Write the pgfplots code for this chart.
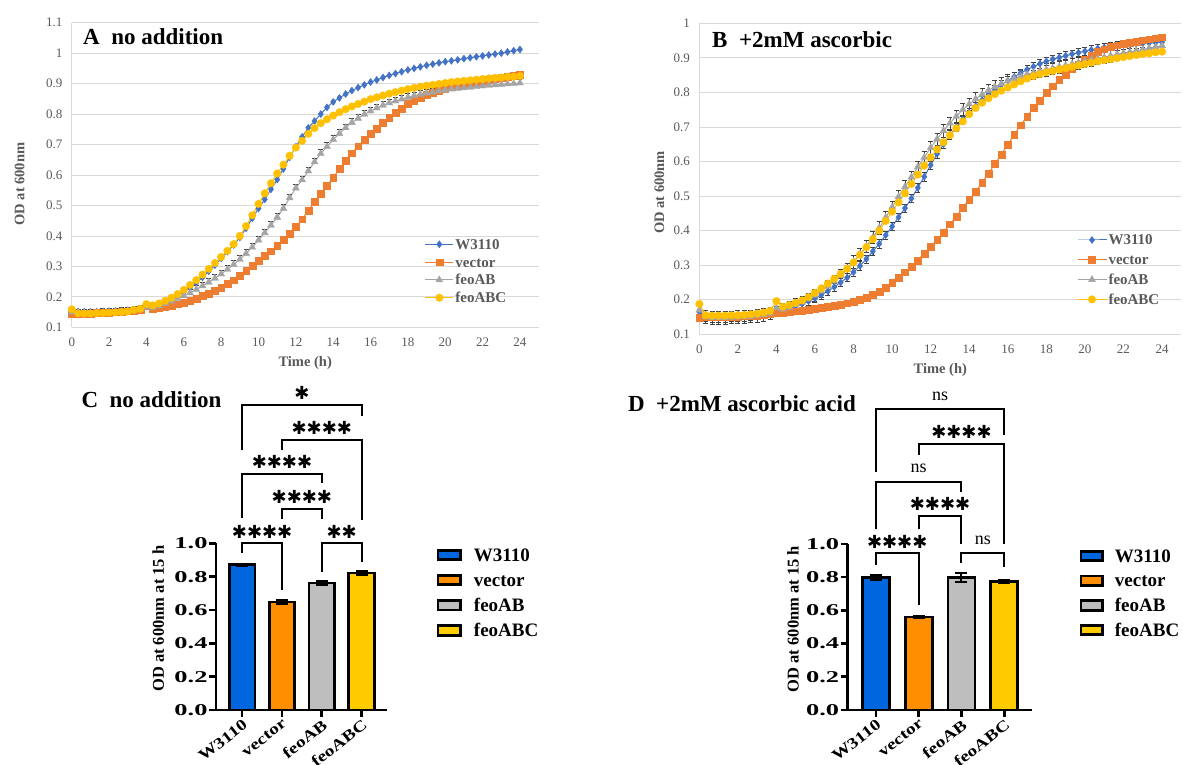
\documentclass[border=0pt]{standalone}
\usepackage{fontspec}
\setmainfont{Liberation Serif}
\newfontfamily\djv{DejaVu Sans}
\newfontfamily\wideA[FakeStretch=1.6]{Liberation Serif}
\newfontfamily\wideB[FakeStretch=1.25]{Liberation Serif}
\usepackage{pgfplots}
\usepackage{pgfplotstable}
\pgfplotsset{compat=1.18}

\definecolor{cW}{HTML}{4472C4}
\definecolor{cV}{HTML}{ED7D31}
\definecolor{cAB}{HTML}{A5A5A5}
\definecolor{cABC}{HTML}{FFC000}
\definecolor{gridc}{HTML}{D9D9D9}
\definecolor{labc}{HTML}{595959}
\definecolor{bW}{HTML}{0066DD}
\definecolor{bV}{HTML}{FF8F00}
\definecolor{bAB}{HTML}{BEBEBE}
\definecolor{bABC}{HTML}{FFCC00}

\newcommand\fs[1]{\fontsize{#1}{#1}\selectfont}
\newcommand\st{\symbol{"2731}}

% growth curves, one reading every 20 min
\pgfplotstableread{
t W V AB ABC
0 0.155 0.143 0.150 0.159
0.333 0.152 0.144 0.147 0.146
0.667 0.151 0.145 0.146 0.145
1 0.151 0.146 0.146 0.145
1.333 0.151 0.147 0.147 0.146
1.667 0.152 0.148 0.148 0.147
2 0.153 0.149 0.149 0.148
2.333 0.154 0.150 0.150 0.149
2.667 0.155 0.151 0.151 0.150
3 0.156 0.153 0.153 0.152
3.333 0.158 0.155 0.155 0.157
3.667 0.161 0.158 0.158 0.161
4 0.168 0.170 0.166 0.176
4.333 0.168 0.162 0.165 0.172
4.667 0.173 0.164 0.170 0.178
5 0.182 0.167 0.178 0.187
5.333 0.192 0.171 0.186 0.197
5.667 0.203 0.176 0.194 0.209
6 0.216 0.182 0.203 0.223
6.333 0.230 0.188 0.213 0.239
6.667 0.246 0.195 0.224 0.255
7 0.264 0.203 0.236 0.273
7.333 0.284 0.211 0.248 0.292
7.667 0.304 0.220 0.261 0.311
8 0.326 0.230 0.275 0.331
8.333 0.348 0.242 0.290 0.351
8.667 0.370 0.255 0.306 0.373
9 0.395 0.270 0.323 0.400
9.333 0.425 0.285 0.342 0.432
9.667 0.458 0.302 0.363 0.468
10 0.490 0.320 0.386 0.505
10.333 0.520 0.334 0.410 0.540
10.667 0.553 0.350 0.435 0.573
11 0.585 0.368 0.461 0.605
11.333 0.620 0.388 0.490 0.634
11.667 0.658 0.408 0.525 0.663
12 0.693 0.430 0.557 0.690
12.333 0.725 0.455 0.584 0.712
12.667 0.755 0.483 0.613 0.735
13 0.777 0.512 0.643 0.754
13.333 0.800 0.540 0.670 0.770
13.667 0.822 0.565 0.693 0.783
14 0.840 0.592 0.716 0.795
14.333 0.853 0.620 0.736 0.806
14.667 0.866 0.648 0.755 0.816
15 0.877 0.672 0.772 0.825
15.333 0.887 0.695 0.786 0.833
15.667 0.896 0.716 0.799 0.841
16 0.905 0.735 0.810 0.849
16.333 0.912 0.753 0.820 0.855
16.667 0.920 0.771 0.829 0.861
17 0.927 0.788 0.837 0.867
17.333 0.933 0.804 0.843 0.872
17.667 0.939 0.819 0.849 0.877
18 0.945 0.833 0.855 0.882
18.333 0.950 0.845 0.860 0.886
18.667 0.955 0.855 0.865 0.890
19 0.960 0.864 0.869 0.893
19.333 0.964 0.871 0.872 0.896
19.667 0.968 0.878 0.876 0.899
20 0.972 0.884 0.879 0.902
20.333 0.975 0.889 0.882 0.905
20.667 0.978 0.894 0.884 0.907
21 0.982 0.898 0.886 0.909
21.333 0.985 0.902 0.888 0.911
21.667 0.988 0.906 0.890 0.913
22 0.991 0.910 0.892 0.915
22.333 0.994 0.913 0.894 0.917
22.667 0.997 0.917 0.896 0.919
23 1.000 0.920 0.897 0.920
23.333 1.004 0.923 0.899 0.922
23.667 1.008 0.927 0.900 0.923
24 1.012 0.930 0.902 0.925
}\tabA

\pgfplotstableread{
t W V AB ABC
0 0.165 0.148 0.170 0.188
0.333 0.150 0.150 0.150 0.155
0.667 0.148 0.150 0.148 0.154
1 0.148 0.150 0.148 0.154
1.333 0.148 0.151 0.148 0.154
1.667 0.149 0.151 0.149 0.155
2 0.150 0.152 0.150 0.155
2.333 0.151 0.153 0.151 0.156
2.667 0.152 0.154 0.152 0.158
3 0.154 0.155 0.154 0.160
3.333 0.157 0.157 0.157 0.163
3.667 0.160 0.159 0.161 0.168
4 0.168 0.162 0.176 0.196
4.333 0.170 0.163 0.172 0.180
4.667 0.175 0.165 0.178 0.185
5 0.181 0.167 0.185 0.191
5.333 0.188 0.169 0.193 0.198
5.667 0.196 0.172 0.202 0.208
6 0.204 0.175 0.213 0.220
6.333 0.214 0.177 0.225 0.233
6.667 0.225 0.180 0.239 0.247
7 0.237 0.183 0.254 0.261
7.333 0.250 0.186 0.269 0.275
7.667 0.264 0.190 0.287 0.290
8 0.280 0.195 0.310 0.308
8.333 0.298 0.200 0.332 0.330
8.667 0.318 0.206 0.355 0.352
9 0.340 0.214 0.380 0.375
9.333 0.362 0.224 0.408 0.400
9.667 0.387 0.236 0.438 0.428
10 0.412 0.250 0.468 0.455
10.333 0.439 0.264 0.498 0.482
10.667 0.465 0.280 0.527 0.508
11 0.493 0.296 0.555 0.535
11.333 0.524 0.314 0.584 0.562
11.667 0.556 0.334 0.612 0.588
12 0.590 0.354 0.640 0.612
12.333 0.622 0.373 0.665 0.635
12.667 0.650 0.395 0.689 0.656
13 0.677 0.419 0.711 0.676
13.333 0.700 0.441 0.731 0.696
13.667 0.722 0.467 0.750 0.716
14 0.742 0.490 0.766 0.737
14.333 0.760 0.513 0.781 0.755
14.667 0.778 0.539 0.794 0.770
15 0.795 0.566 0.806 0.783
15.333 0.809 0.593 0.816 0.795
15.667 0.822 0.621 0.825 0.805
16 0.834 0.649 0.833 0.814
16.333 0.845 0.677 0.840 0.823
16.667 0.856 0.705 0.846 0.832
17 0.866 0.730 0.852 0.840
17.333 0.875 0.755 0.857 0.847
17.667 0.883 0.777 0.862 0.853
18 0.890 0.799 0.866 0.858
18.333 0.896 0.818 0.870 0.862
18.667 0.901 0.836 0.874 0.866
19 0.906 0.852 0.878 0.870
19.333 0.911 0.868 0.882 0.874
19.667 0.915 0.882 0.886 0.878
20 0.919 0.894 0.890 0.882
20.333 0.923 0.906 0.894 0.886
20.667 0.927 0.917 0.898 0.890
21 0.930 0.925 0.902 0.893
21.333 0.933 0.932 0.906 0.896
21.667 0.935 0.937 0.910 0.899
22 0.937 0.941 0.914 0.902
22.333 0.939 0.945 0.917 0.905
22.667 0.941 0.948 0.921 0.908
23 0.942 0.951 0.924 0.911
23.333 0.943 0.954 0.928 0.913
23.667 0.944 0.957 0.931 0.916
24 0.945 0.960 0.935 0.918
}\tabB

\pgfplotsset{
  growth/.style={
    scale only axis, anchor=south west,
    xmin=0, xmax=25, xtick={0,2,...,24},
    axis x line*=bottom, axis y line*=left,
    axis line style={draw=gridc, line width=0.8pt, -},
    ymajorgrids, grid style={draw=gridc, line width=0.8pt},
    major tick length=0pt,
    tick label style={font=\fs{13}, text=labc},
    /pgf/number format/assume math mode=true,
    yticklabel style={xshift=-6pt},
    xticklabel style={yshift=-7.5pt},
    label style={font=\fs{14.5}\bfseries, text=labc},
    legend cell align=left,
    legend style={anchor=north west, draw=none, fill=none, inner sep=0pt, outer sep=0pt,
      column sep=0pt, font=\fs{15}\bfseries, text=labc,
      nodes={inner sep=0pt, text height=10pt, text depth=0pt}},
    every axis plot/.append style={line width=1pt},
  },
  sW/.style={color=cW, mark=diamond*, mark size=3.6pt, mark options={solid, line width=0.3pt}},
  sV/.style={color=cV, mark=square*, mark size=3.4pt, mark options={solid, line width=0.3pt}},
  sAB/.style={color=cAB, mark=triangle*, mark size=4.1pt, mark options={solid, line width=0.3pt}},
  sABC/.style={color=cABC, mark=*, mark size=3.8pt, mark options={solid, line width=0.3pt}},
  ebar/.style 2 args={error bars/.cd, y dir=#1, y fixed=#2,
    error bar style={line width=0.6pt, black!75},
    error mark options={rotate=90, mark size=2.5pt, line width=0.6pt, black!75}},
  bars/.style={
    scale only axis, anchor=south west, ymin=0, ymax=1, clip=false,
    xmin=-0.658, xmax=3.646,
    axis x line=bottom, axis y line=left,
    axis line style={-, line width=2.6pt},
    tick align=outside, major tick length=7pt, tick style={line width=2.6pt, black},
    xtick={0,1,2,3}, xticklabels={W3110,vector,feoAB,feoABC},
    ytick={0,0.2,0.4,0.6,0.8,1},
    yticklabel style={font=\wideA\fs{16.5}\bfseries, xshift=2pt, /pgf/number format/.cd, fixed, fixed zerofill, precision=1, assume math mode=true},
    xticklabel style={font=\wideB\fs{15.5}\bfseries, rotate=38, anchor=north east, inner sep=1pt},
    ylabel={OD at 600nm at 15 h}, ylabel style={font=\fs{16.5}\bfseries, anchor=center},
    ybar,
    legend cell align=left,
    legend style={anchor=north west, draw=none, fill=none, inner sep=0pt, outer sep=0pt,
      column sep=0pt, font=\fs{19}\bfseries,
      nodes={inner sep=0pt, text height=12.6pt, text depth=0pt}},
  },
  bar/.style={fill=#1, draw=black, line width=2.8pt, bar shift=0pt,
    error bars/.cd, y dir=both, y explicit,
    error bar style={line width=2pt, black},
    error mark options={rotate=90, mark size=6pt, line width=2pt, black}},
  barlegC/.style={legend image code/.code={\draw[##1, line width=2.8pt] (1.4pt,-4.75pt) rectangle (23.6pt,4.75pt); \path[draw=none] (0pt,0pt) (37.3pt,0pt);}},
  barlegD/.style={legend image code/.code={\draw[##1, line width=2.8pt] (1.4pt,-4.75pt) rectangle (22.6pt,4.75pt); \path[draw=none] (0pt,0pt) (35.3pt,0pt);}},
}

\begin{document}
\begin{tikzpicture}
\path[use as bounding box] (0pt,0pt) rectangle (1183pt,765pt);

% A: growth, no addition
\begin{axis}[growth, at={(71.8pt,437.7pt)}, width=466.8pt, height=304.6pt,
  ymin=0.1, ymax=1.1, ytick={0.1,0.2,0.3,0.4,0.5,0.6,0.7,0.8,0.9,1,1.1},
  xlabel={Time (h)}, ylabel={OD at 600nm},
  xlabel style={at={(axis description cs:0.5,-0.117)}, anchor=center},
  ylabel style={at={(axis description cs:-0.112,0.47)}, anchor=center},
  legend style={at={(0.7566,0.2889)}, row sep=7.8pt},
  legend image code/.code={\draw[mark repeat=2,mark phase=2,#1] plot coordinates {(0pt,0pt) (13.85pt,0pt) (27.7pt,0pt)}; \path[draw=none] (0pt,0pt) (30pt,0pt);}]
\addplot[sW] table[x=t,y=W]{\tabA}; \addlegendentry{W3110}
\addplot[sV] table[x=t,y=V]{\tabA}; \addlegendentry{vector}
\addplot[sAB, ebar={plus}{0.013}] table[x=t,y=AB]{\tabA}; \addlegendentry{feoAB}
\addplot[sABC] table[x=t,y=ABC]{\tabA}; \addlegendentry{feoABC}
\end{axis}

% B: growth, +2mM ascorbic
\begin{axis}[growth, at={(699.3pt,430.7pt)}, width=482pt, height=311pt,
  ymin=0.1, ymax=1, ytick={0.1,0.2,0.3,0.4,0.5,0.6,0.7,0.8,0.9,1},
  xlabel={Time (h)}, ylabel={OD at 600nm},
  xlabel style={at={(axis description cs:0.5,-0.115)}, anchor=center},
  ylabel style={at={(axis description cs:-0.0826,0.456)}, anchor=center},
  legend style={at={(0.7836,0.3193)}, row sep=9.8pt},
  legend image code/.code={\draw[mark repeat=2,mark phase=2,#1] plot coordinates {(0pt,0pt) (14.5pt,0pt) (29pt,0pt)}; \path[draw=none] (0pt,0pt) (31pt,0pt);}]
\addplot[sW, ebar={both}{0.012}] table[x=t,y=W]{\tabB}; \addlegendentry{W3110}
\addplot[sV] table[x=t,y=V]{\tabB}; \addlegendentry{vector}
\addplot[sAB, ebar={both}{0.018}] table[x=t,y=AB]{\tabB}; \addlegendentry{feoAB}
\addplot[sABC] table[x=t,y=ABC]{\tabB}; \addlegendentry{feoABC}
\end{axis}

% C: OD at 15 h, no addition
\begin{axis}[bars, at={(216pt,55pt)}, width=171.3pt, height=166.7pt, bar width=25.7pt,
  ylabel style={at={(axis description cs:-0.337,0.548)}},
  legend style={at={(1.288,0.968)}, row sep=12.6pt}]
\addplot[barlegC, bar=bW] coordinates {(0,0.872) +- (0,0.006)}; \addlegendentry{W3110}
\addplot[barlegC, bar=bV] coordinates {(1,0.648) +- (0,0.013)}; \addlegendentry{vector}
\addplot[barlegC, bar=bAB] coordinates {(2,0.762) +- (0,0.011)}; \addlegendentry{feoAB}
\addplot[barlegC, bar=bABC] coordinates {(3,0.822) +- (0,0.014)}; \addlegendentry{feoABC}
\begin{scope}[line width=2pt, line join=miter]
\draw (axis cs:0,0.943) |- (axis cs:1,1.0) -- (axis cs:1,0.72);
\draw (axis cs:2,0.83) |- (axis cs:3,1.0) -- (axis cs:3,0.89);
\draw (axis cs:1,1.148) |- (axis cs:2,1.208) -- (axis cs:2,1.148);
\draw (axis cs:0,1.15) |- (axis cs:2,1.413) -- (axis cs:2,1.36);
\draw (axis cs:1,1.557) |- (axis cs:3,1.62) -- (axis cs:3,1.14);
\draw (axis cs:0,1.557) |- (axis cs:3,1.83) -- (axis cs:3,1.766);
\end{scope}
\begin{scope}[every node/.style={font=\djv\fs{18}, inner sep=0pt}]
\node at (axis cs:0.5,1.07) {\st\st\st\st};
\node at (axis cs:2.5,1.07) {\st\st};
\node at (axis cs:1.5,1.28) {\st\st\st\st};
\node at (axis cs:1,1.487) {\st\st\st\st};
\node at (axis cs:2,1.69) {\st\st\st\st};
\node at (axis cs:1.5,1.90) {\st};
\end{scope}
\end{axis}

% D: OD at 15 h, +2mM ascorbic acid
\begin{axis}[bars, at={(847.6pt,55pt)}, width=184.4pt, height=166pt, bar width=27pt,
  ylabel style={at={(axis description cs:-0.296,0.548)}},
  legend style={at={(1.258,0.9657)}, row sep=12.1pt}]
\addplot[barlegD, bar=bW] coordinates {(0,0.797) +- (0,0.016)}; \addlegendentry{W3110}
\addplot[barlegD, bar=bV] coordinates {(1,0.560) +- (0,0.007)}; \addlegendentry{vector}
\addplot[barlegD, bar=bAB] coordinates {(2,0.797) +- (0,0.026)}; \addlegendentry{feoAB}
\addplot[barlegD, bar=bABC] coordinates {(3,0.773) +- (0,0.009)}; \addlegendentry{feoABC}
\begin{scope}[line width=2pt, line join=miter]
\draw (axis cs:0,0.873) |- (axis cs:1,0.948) -- (axis cs:1,0.633);
\draw (axis cs:2,0.884) |- (axis cs:3,0.948) -- (axis cs:3,0.863);
\draw (axis cs:1,1.088) |- (axis cs:2,1.169) -- (axis cs:2,1.0);
\draw (axis cs:0,1.088) |- (axis cs:2,1.375) -- (axis cs:2,1.315);
\draw (axis cs:1,1.536) |- (axis cs:3,1.60) -- (axis cs:3,1.0);
\draw (axis cs:0,1.436) |- (axis cs:3,1.811) -- (axis cs:3,1.657);
\end{scope}
\begin{scope}[every node/.style={font=\djv\fs{18}, inner sep=0pt}]
\node at (axis cs:0.5,1.014) {\st\st\st\st};
\node at (axis cs:1.5,1.24) {\st\st\st\st};
\node at (axis cs:2,1.676) {\st\st\st\st};
\end{scope}
\begin{scope}[every node/.style={font=\fs{18}, inner sep=0pt}]
\node at (axis cs:2.5,1.02) {ns};
\node at (axis cs:1,1.456) {ns};
\node at (axis cs:1.5,1.89) {ns};
\end{scope}
\end{axis}

% panel titles
\begin{scope}[every node/.style={anchor=base west, inner sep=0pt, font=\fs{23}\bfseries}]
\node at (83pt,720.7pt) {A\ \ no addition};
\node at (712pt,717.7pt) {B\ \ +2mM ascorbic};
\node at (81.3pt,357.3pt) {C\ \ no addition};
\node at (627.9pt,353.3pt) {D\ \ +2mM ascorbic acid};
\end{scope}
\end{tikzpicture}
\end{document}
